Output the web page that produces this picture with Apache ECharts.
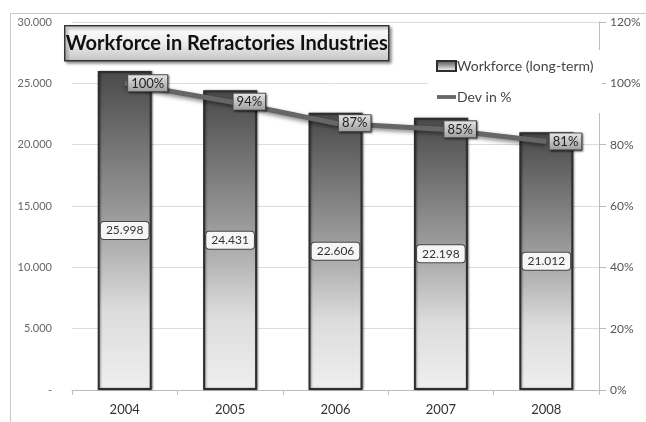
<!DOCTYPE html>
<html>
<head>
<meta charset="utf-8">
<script src="https://cdn.jsdelivr.net/npm/echarts@6/dist/echarts.min.js"></script>
<style>
  html, body { margin: 0; padding: 0; background: #fff; }
  #chart { width: 646px; height: 422px; }
</style>
</head>
<body>
<div id="chart"></div>
<script>
// Workforce in the refractories industries, 2004-2008
const years = ['2004', '2005', '2006', '2007', '2008'];
const workforce = [25998, 24431, 22606, 22198, 21012];
const devPercent = [1.00, 0.94, 0.87, 0.85, 0.81];
const leftTicks = { min: 0, max: 30000, interval: 5000 };
const rightTicks = { min: 0, max: 1.2, interval: 0.2 };

const FONT = 'Lato';

function thousands(v) {
  if (v === 0) return '-';
  const s = String(Math.round(v));
  return s.replace(/\B(?=(\d{3})+(?!\d))/g, '.');
}

const chart = echarts.init(document.getElementById('chart'), null, { renderer: 'canvas' });

const barGradient = new echarts.graphic.LinearGradient(0, 0, 0, 1, [
  { offset: 0, color: '#4a4a4a' },
  { offset: 0.45, color: '#9a9a9a' },
  { offset: 0.75, color: '#dcdcdc' },
  { offset: 1, color: '#efefef' }
]);

chart.setOption({
  animation: false,
  textStyle: { fontFamily: FONT },
  grid: { left: 72, right: 47, top: 22, bottom: 32 },
  graphic: [
    {
      type: 'rect', z: -10, silent: true,
      shape: { x: 10.5, y: 13.5, width: 700, height: 500 },
      style: { fill: 'none', stroke: '#c8c8c8', lineWidth: 1 }
    },
    {
      type: 'group', left: 64, top: 25, z: 20,
      children: [
        {
          type: 'rect',
          shape: { x: 0, y: 0, width: 324, height: 35 },
          style: {
            fill: new echarts.graphic.LinearGradient(0, 0, 0, 1, [
              { offset: 0, color: '#ffffff' },
              { offset: 0.5, color: '#ececec' },
              { offset: 1, color: '#c4c4c4' }
            ]),
            stroke: '#333', lineWidth: 1.5,
            shadowBlur: 3, shadowOffsetX: 2, shadowOffsetY: 2, shadowColor: 'rgba(0,0,0,0.45)'
          }
        },
        {
          type: 'text',
          style: {
            x: 162, y: 18, text: 'Workforce in Refractories Industries',
            align: 'center', verticalAlign: 'middle',
            font: 'bold 20px "' + FONT + '"', fill: '#111'
          }
        }
      ]
    }
  ],
  legend: {
    orient: 'vertical',
    left: 428, top: 50,
    padding: [9, 8, 9, 8],
    itemGap: 17,
    itemWidth: 19, itemHeight: 10,
    backgroundColor: '#fff',
    textStyle: { fontFamily: FONT, fontSize: 14, color: '#444', padding: [0, 0, 0, -4] },
    data: [
      { name: 'Workforce (long-term)', icon: 'rect' },
      { name: 'Dev in %', icon: 'path://M0,0H20V4H0Z' }
    ]
  },
  xAxis: {
    type: 'category',
    data: years,
    axisLine: { lineStyle: { color: '#bdbdbd' } },
    axisTick: { show: true, length: 5, lineStyle: { color: '#bdbdbd' } },
    axisLabel: { color: '#333', fontSize: 13, margin: 13, fontFamily: FONT }
  },
  yAxis: [
    {
      type: 'value',
      min: leftTicks.min, max: leftTicks.max, interval: leftTicks.interval,
      axisLine: { show: false },
      axisTick: { show: false },
      splitLine: { lineStyle: { color: '#dcdcdc' } },
      axisLabel: { color: '#666', fontSize: 11, margin: 20, formatter: thousands, fontFamily: FONT }
    },
    {
      type: 'value',
      min: rightTicks.min, max: rightTicks.max, interval: rightTicks.interval,
      position: 'right',
      axisLine: { show: true, lineStyle: { color: '#bdbdbd' } },
      axisTick: { show: true, length: 7, lineStyle: { color: '#bdbdbd' } },
      splitLine: { show: false },
      axisLabel: {
        color: '#555', fontSize: 12, margin: 11, fontFamily: FONT,
        formatter: v => Math.round(v * 100) + '%'
      }
    }
  ],
  series: [
    {
      name: 'Workforce (long-term)',
      type: 'bar',
      yAxisIndex: 0,
      data: workforce,
      barWidth: 54,
      itemStyle: {
        color: barGradient,
        borderColor: '#2e2e2e',
        borderWidth: 2,
        shadowBlur: 2, shadowOffsetX: 1, shadowOffsetY: 0, shadowColor: 'rgba(0,0,0,0.4)'
      },
      label: {
        show: true,
        position: 'inside',
        formatter: p => thousands(p.value),
        color: '#333', fontSize: 12, fontFamily: FONT,
        backgroundColor: '#f6f6f6',
        borderColor: '#444', borderWidth: 1, borderRadius: 3,
        padding: [3, 5, 2, 5]
      }
    },
    {
      name: 'Dev in %',
      type: 'line',
      yAxisIndex: 1,
      data: devPercent,
      symbol: 'circle',
      symbolSize: 1,
      z: 5,
      lineStyle: {
        color: '#666', width: 5,
        shadowBlur: 4, shadowOffsetY: 2, shadowColor: 'rgba(0,0,0,0.5)'
      },
      itemStyle: { color: '#666' },
      label: {
        show: true,
        position: 'right',
        distance: 3,
        formatter: p => Math.round(p.value * 100) + '%',
        color: '#222', fontSize: 13, fontFamily: FONT,
        backgroundColor: new echarts.graphic.LinearGradient(0, 0, 0, 1, [
          { offset: 0, color: '#e8e8e8' },
          { offset: 1, color: '#9c9c9c' }
        ]),
        borderColor: '#555', borderWidth: 1,
        padding: [2, 3, 1, 3],
        shadowBlur: 2, shadowOffsetX: 1, shadowOffsetY: 1, shadowColor: 'rgba(0,0,0,0.5)'
      }
    }
  ]
});
</script>
</body>
</html>
